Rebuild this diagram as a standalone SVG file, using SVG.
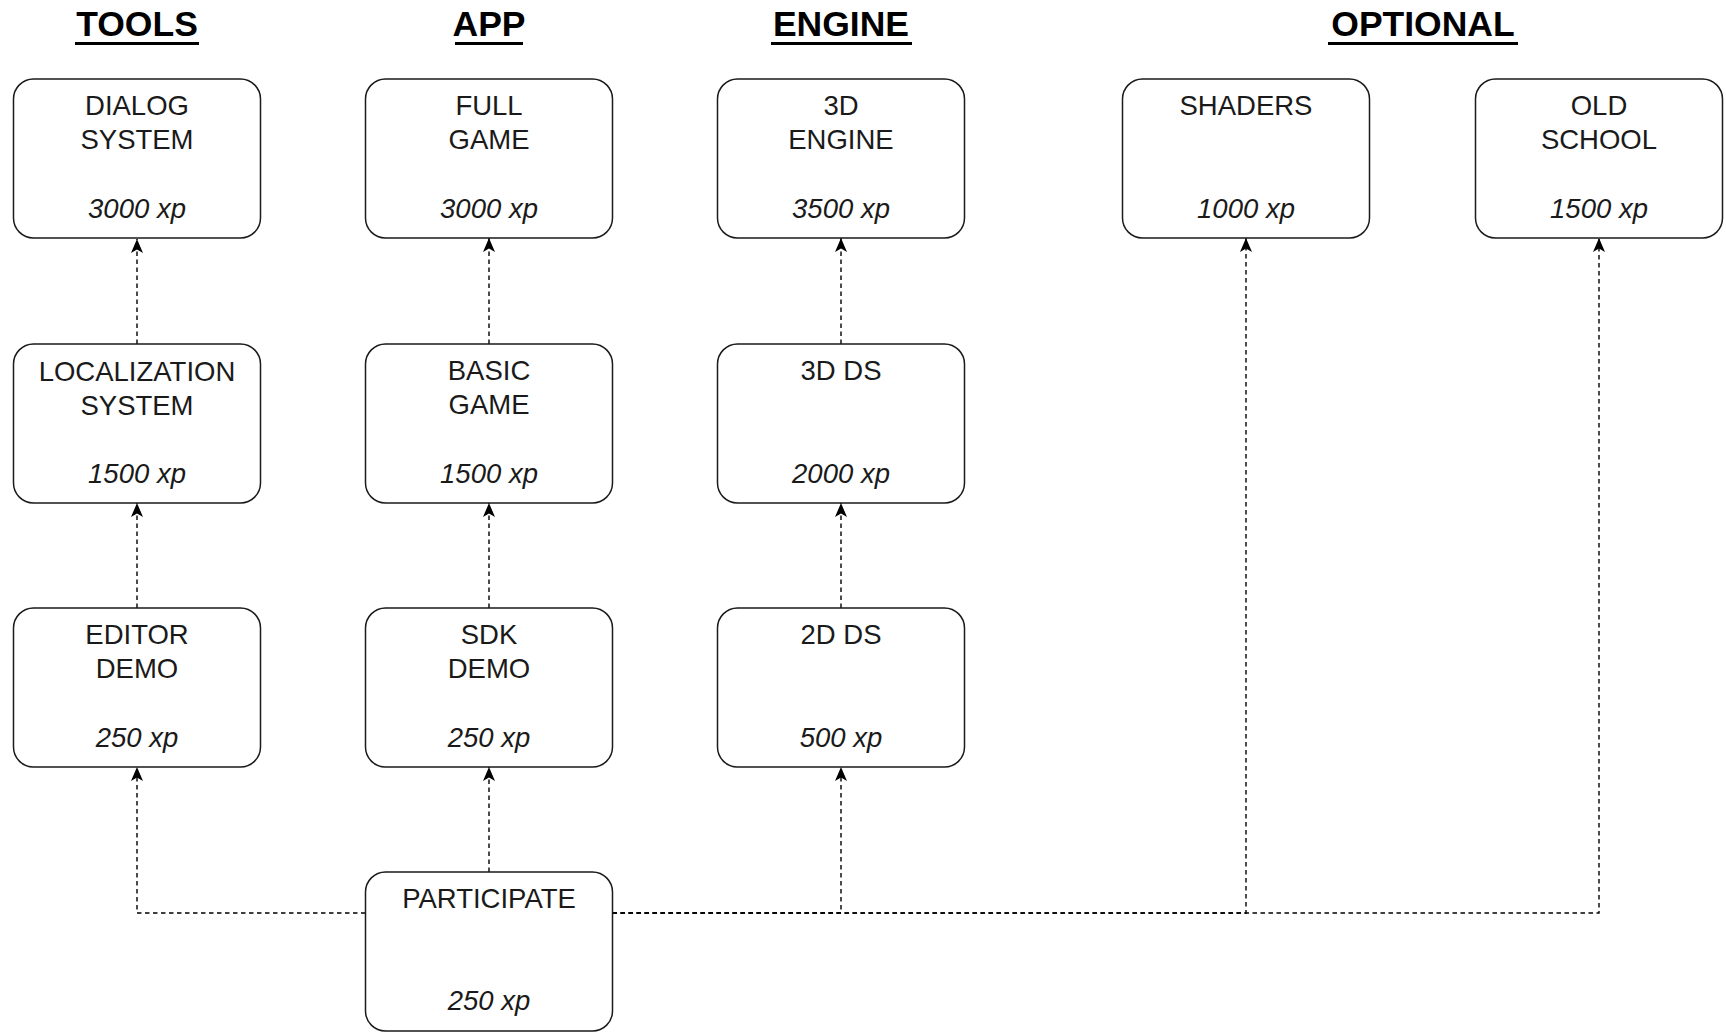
<svg xmlns="http://www.w3.org/2000/svg" width="1726" height="1033" viewBox="0 0 1726 1033">
<style>
.box{fill:#ffffff;stroke:#1a1a1a;stroke-width:1.5}
.t{font-family:"Liberation Sans",Arial,sans-serif;font-size:27.5px;fill:#1a1a1a;text-anchor:middle}
.xp{font-family:"Liberation Sans",Arial,sans-serif;font-size:27.5px;font-style:italic;fill:#1a1a1a;text-anchor:middle}
.h{font-family:"Liberation Sans",Arial,sans-serif;font-size:35.5px;font-weight:bold;fill:#000;text-anchor:middle}
.ul{stroke:#000;stroke-width:3}
.c{fill:none;stroke:#000;stroke-width:1.4;stroke-dasharray:4.5 3.5}
</style>
<defs>
<marker id="arr" markerUnits="userSpaceOnUse" viewBox="-15 -7 16 14" refX="0" refY="0" markerWidth="16" markerHeight="14" orient="auto">
<path d="M0,0 L-14,-6 L-10.5,0 L-14,6 Z" fill="#000"/>
</marker>
</defs>
<rect width="1726" height="1033" fill="#ffffff"/>
<g id="headers">
<text class="h" x="137" y="36">TOOLS</text><line class="ul" x1="75" y1="43.5" x2="199" y2="43.5"/>
<text class="h" x="489" y="36">APP</text><line class="ul" x1="455" y1="43.5" x2="523" y2="43.5"/>
<text class="h" x="841" y="36">ENGINE</text><line class="ul" x1="771" y1="43.5" x2="912" y2="43.5"/>
<text class="h" x="1423" y="36">OPTIONAL</text><line class="ul" x1="1328" y1="43.5" x2="1518" y2="43.5"/>
</g>
<g id="connectors">
<path class="c" d="M137,344 L137,239" marker-end="url(#arr)"/>
<path class="c" d="M137,608 L137,503" marker-end="url(#arr)"/>
<path class="c" d="M489,344 L489,238" marker-end="url(#arr)"/>
<path class="c" d="M489,608 L489,503" marker-end="url(#arr)"/>
<path class="c" d="M841,344 L841,238" marker-end="url(#arr)"/>
<path class="c" d="M841,608 L841,503" marker-end="url(#arr)"/>
<path class="c" d="M489,872 L489,767" marker-end="url(#arr)"/>
<path class="c" d="M365.5,913 L137,913 L137,767" marker-end="url(#arr)"/>
<path class="c" d="M612.5,913 L841,913 L841,767" marker-end="url(#arr)"/>
<path class="c" d="M612.5,913 L1246,913 L1246,238" marker-end="url(#arr)"/>
<path class="c" d="M612.5,913 L1599,913 L1599,238" marker-end="url(#arr)"/>
</g>
<g id="dialog-system"><rect class="box" x="13.5" y="79" width="247" height="159" rx="20"/><text class="t" x="137" y="115">DIALOG</text><text class="t" x="137" y="149">SYSTEM</text><text class="xp" x="137" y="218">3000 xp</text></g>
<g id="localization-system"><rect class="box" x="13.5" y="344" width="247" height="159" rx="20"/><text class="t" x="137" y="381">LOCALIZATION</text><text class="t" x="137" y="415">SYSTEM</text><text class="xp" x="137" y="483">1500 xp</text></g>
<g id="editor-demo"><rect class="box" x="13.5" y="608" width="247" height="159" rx="20"/><text class="t" x="137" y="644">EDITOR</text><text class="t" x="137" y="678">DEMO</text><text class="xp" x="137" y="747">250 xp</text></g>
<g id="full-game"><rect class="box" x="365.5" y="79" width="247" height="159" rx="20"/><text class="t" x="489" y="115">FULL</text><text class="t" x="489" y="149">GAME</text><text class="xp" x="489" y="218">3000 xp</text></g>
<g id="basic-game"><rect class="box" x="365.5" y="344" width="247" height="159" rx="20"/><text class="t" x="489" y="380">BASIC</text><text class="t" x="489" y="414">GAME</text><text class="xp" x="489" y="483">1500 xp</text></g>
<g id="sdk-demo"><rect class="box" x="365.5" y="608" width="247" height="159" rx="20"/><text class="t" x="489" y="644">SDK</text><text class="t" x="489" y="678">DEMO</text><text class="xp" x="489" y="747">250 xp</text></g>
<g id="engine-3d"><rect class="box" x="717.5" y="79" width="247" height="159" rx="20"/><text class="t" x="841" y="115">3D</text><text class="t" x="841" y="149">ENGINE</text><text class="xp" x="841" y="218">3500 xp</text></g>
<g id="ds-3d"><rect class="box" x="717.5" y="344" width="247" height="159" rx="20"/><text class="t" x="841" y="380">3D DS</text><text class="xp" x="841" y="483">2000 xp</text></g>
<g id="ds-2d"><rect class="box" x="717.5" y="608" width="247" height="159" rx="20"/><text class="t" x="841" y="644">2D DS</text><text class="xp" x="841" y="747">500 xp</text></g>
<g id="shaders"><rect class="box" x="1122.5" y="79" width="247" height="159" rx="20"/><text class="t" x="1246" y="115">SHADERS</text><text class="xp" x="1246" y="218">1000 xp</text></g>
<g id="old-school"><rect class="box" x="1475.5" y="79" width="247" height="159" rx="20"/><text class="t" x="1599" y="115">OLD</text><text class="t" x="1599" y="149">SCHOOL</text><text class="xp" x="1599" y="218">1500 xp</text></g>
<g id="participate"><rect class="box" x="365.5" y="872" width="247" height="159" rx="20"/><text class="t" x="489" y="908">PARTICIPATE</text><text class="xp" x="489" y="1010">250 xp</text></g>
</svg>
